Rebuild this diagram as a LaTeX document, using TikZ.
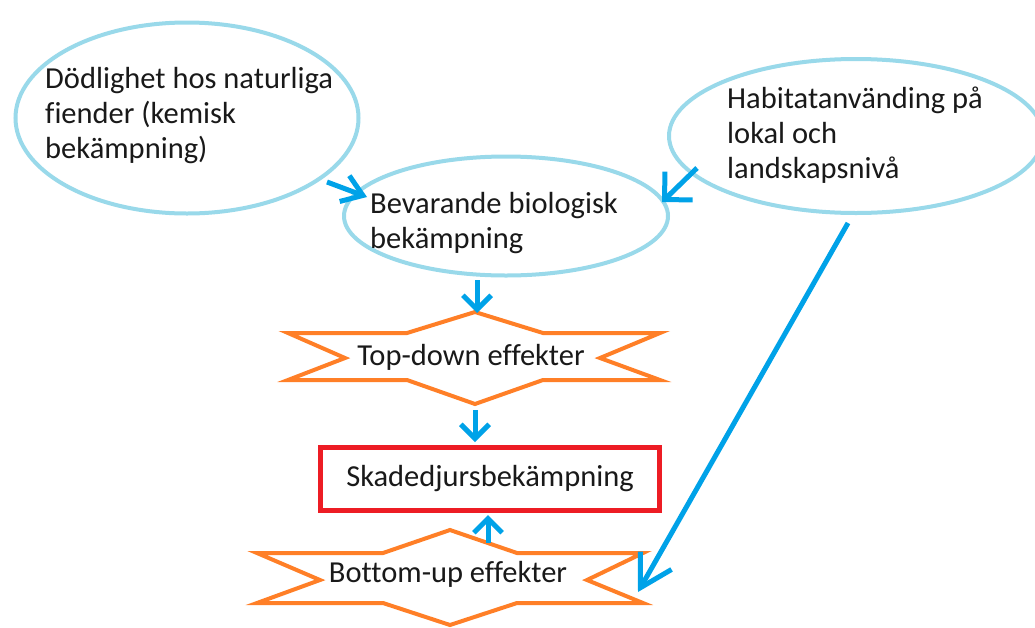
\documentclass[tikz,border=0pt]{standalone}
\usepackage{fontspec}
\setmainfont[Ligatures=CommonOff]{Carlito}
\usetikzlibrary{shapes.geometric,arrows.meta}
\definecolor{ellblue}{HTML}{99D9EA}
\definecolor{arrblue}{HTML}{00A2E8}
\definecolor{starorange}{HTML}{FF7F27}
\definecolor{boxred}{HTML}{ED1C24}
\begin{document}
\begin{tikzpicture}[x=1pt,y=-1pt,
  ell/.style={draw=ellblue, line width=4pt, ellipse, inner sep=0pt},
  txt/.style={font=\fontsize{30.5}{35}\selectfont, inner sep=0pt, align=left, text=black!90},
  starline/.style={draw=starorange, line width=4pt, line join=miter},
  redbox/.style={draw=boxred, line width=5pt, inner sep=0pt, minimum width=339pt, minimum height=63pt, font=\fontsize{30.5}{35}\selectfont, text=black!90},
  arr/.style={draw=arrblue, line width=5pt}
]
\useasboundingbox (0,0) rectangle (1035,627);
\clip (0,0) rectangle (1035,627);
\fill[white] (0,0) rectangle (1035,627);

% ellipses
\node[ell, minimum width=343pt, minimum height=191pt] (dod) at (187,118) {};
\node[ell, minimum width=324pt, minimum height=119pt] (bev) at (506,216) {};
\node[ell, minimum width=374pt, minimum height=154pt] (hab) at (856,136) {};

\node[txt, anchor=base west] (dodt) at (45,158) {Dödlighet hos naturliga\\fiender (kemisk\\bekämpning)};
\node[txt, anchor=base west] (bevt) at (370,248) {Bevarande biologisk\\bekämpning};
\node[txt, anchor=base west] (habt) at (727,178) {Habitatanvänding på\\lokal och\\landskapsnivå};

% top-down star
\node[txt, anchor=base] (td) at (471,365) {Top-down effekter};
\draw[starline, shift={(td.base)}] (-183,-32) -- (-64,-32) -- (4,-53) coordinate (tdtop) -- (72,-32) -- (189,-32) -- (129,-7) -- (189,15) -- (72,15) -- (4,39) coordinate (tdbot) -- (-64,15) -- (-183,15) -- (-126,-7) -- cycle;

% red box
\node[redbox] (sk) at (490,479) {Skadedjursbekämpning};

% bottom-up star
\node[txt, anchor=base] (bu) at (448,582) {Bottom-up effekter};
\draw[starline, shift={(bu.base)}] (-191,-29) -- (-65,-29) -- (2,-52) coordinate (butop) -- (69,-29) -- (195,-29) -- (139,-2) -- (195,21) -- (69,21) -- (2,43) -- (-65,21) -- (-191,21) -- (-128,-2) -- cycle;

% arrows
\draw[arr, -{Straight Barb[angle=70:24pt]}] ([shift={(140,64)}]dod.center) -- ([shift={(-139,-19)}]bev.center);
\draw[arr, -{Straight Barb[angle=90:28pt]}] ([shift={(-159,32)}]hab.center) -- ([shift={(156,-14)}]bev.center);
\draw[arr, -{Straight Barb[angle=90:20pt]}] ([shift={(-29,64)}]bev.center) -- ([shift={(2,1)}]tdtop);
\draw[arr, -{Straight Barb[angle=90:20pt]}] ([shift={(0,6)}]tdbot) -- ([shift={(-15,-3)}]sk.north);
\draw[arr, -{Straight Barb[angle=90:20pt]}] ([shift={(38,13)}]butop) -- ([shift={(-2,2)}]sk.south);
\draw[arr, -{Straight Barb[angle=60:36pt]}] ([shift={(-8,87)}]hab.center) -- ([shift={(190,10)}]bu.base);
\end{tikzpicture}
\end{document}
